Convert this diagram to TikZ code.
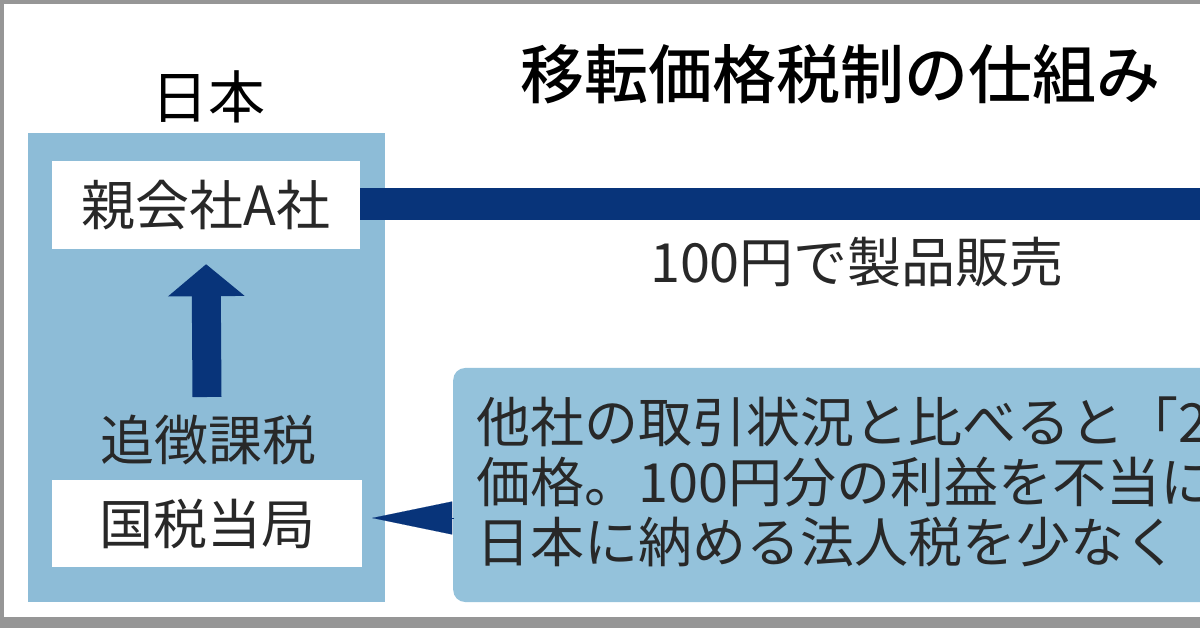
\documentclass[tikz,border=0pt]{standalone}
\usepackage{fontspec}
\newfontfamily\jp{Noto Sans CJK JP}
\newfontfamily\jpm{Noto Sans CJK JP Medium}
\usetikzlibrary{arrows.meta}
\definecolor{panelblue}{RGB}{141,188,215}
\definecolor{calloutblue}{RGB}{148,194,219}
\definecolor{navy}{RGB}{8,52,122}
\definecolor{txt}{RGB}{40,40,40}
\definecolor{frame}{RGB}{150,150,150}
\tikzset{
  whitebox/.style={fill=white, draw=none, minimum width=308pt, minimum height=88pt, inner sep=0pt, font=\jp\fontsize{54}{54}\selectfont, text=txt},
  plain/.style={inner sep=0pt, font=\jp\fontsize{54}{54}\selectfont, text=txt},
  navyline/.style={draw=navy},
}
\begin{document}
\begin{tikzpicture}[x=1pt,y=-1pt]
\useasboundingbox (0,0) rectangle (1200,628);
\clip (0,0) rectangle (1200,628);
\fill[white] (0,0) rectangle (1200,628);
% frame edges
\fill[frame] (0,0) rectangle (1200,4);
\fill[frame] (0,0) rectangle (4,628);
\fill[frame] (0,617) rectangle (1200,628);
% title
\node[inner sep=0pt, font=\jpm\fontsize{64}{64}\selectfont, text=black] (title) at (840,74) {移転価格税制の仕組み};
\node[inner sep=0pt, font=\jp\fontsize{57}{57}\selectfont, text=black] (japan) at (208,97) {日本};
% panel
\node[fill=panelblue, minimum width=357pt, minimum height=469pt, inner sep=0pt] (panel) at (206.5,367.5) {};
\node[whitebox] (parent) at (206,205) {親会社A社};
\node[whitebox, minimum width=310pt, minimum height=87pt] (nta) at (207,523.5) {国税当局};
\node[plain] (tsl) at (208,440) {追徴課税};
% bar
\coordinate (barend) at (1210,204);
\draw[navyline, line width=32pt] (parent.east |- barend) -- (barend);
\node[plain] (sale) at (857,262) {100円で製品販売};
% up arrow
\coordinate (upbase) at (207,397);
\draw[navyline, line width=29pt, -{Triangle[width=75pt,length=32pt]}, shorten >=15pt] (upbase) -- (parent.south);
% callout
\node[fill=calloutblue, rounded corners=12pt, minimum width=807pt, minimum height=234pt, inner sep=0pt, anchor=west] (callout) at (453,485) {};
\node[anchor=north west, inner sep=0pt, align=left, font=\jp\fontsize{54}{60}\selectfont, text=txt] (ctext) at (476,397) {他社の取引状況と比べると「2\\価格。100円分の利益を不当に\\日本に納める法人税を少なく};
% wedge
\coordinate (wedgebase) at (454,518);
\draw[navyline, line width=0.1pt, -{Triangle[width=33pt,length=80pt]}, fill=navy, shorten >=10pt] (wedgebase) -- (wedgebase -| nta.east);
\end{tikzpicture}
\end{document}
